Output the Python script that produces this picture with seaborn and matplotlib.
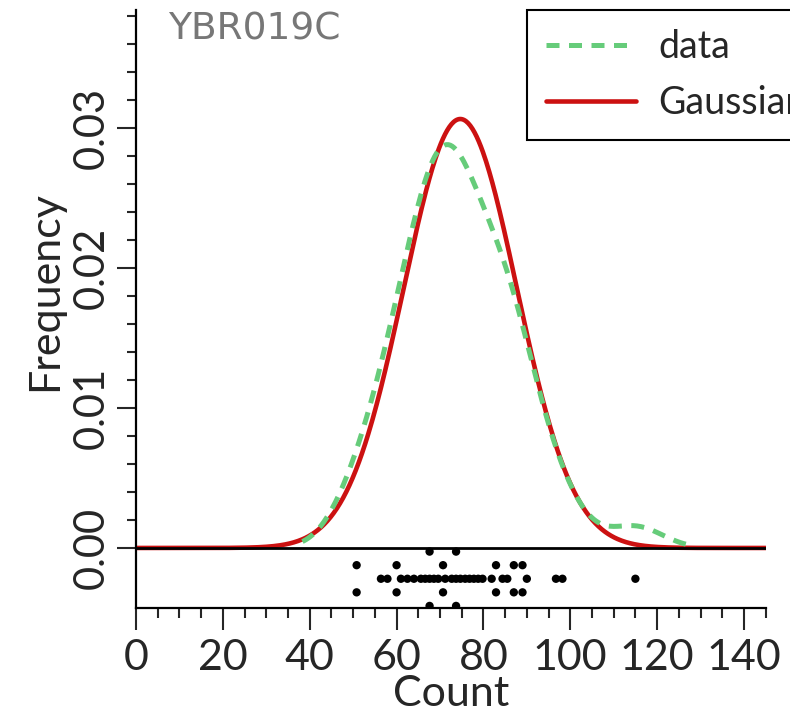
import numpy as np
import pandas as pd
import matplotlib
matplotlib.use("Agg")
import matplotlib.pyplot as plt
import seaborn as sns
from matplotlib.ticker import FixedLocator, FormatStrFormatter

# counts
counts_mid = [56.4, 57.9, 61.0, 62.5, 64.0, 65.6, 66.6, 67.6, 68.6, 69.6, 71.2, 72.7, 73.7,
              74.7, 75.8, 76.8, 77.8, 78.8, 79.8, 81.9, 84.4, 85.5, 90.0, 96.7, 98.2, 115.0]
counts_side1 = [50.8, 60.0, 70.7, 82.9, 87.0, 89.0]   # one dot above + one below the middle row
counts_side2 = [67.6, 73.7]                            # two rows out, above + below
gene = "YBR019C"
x_ticks = [0, 20, 40, 60, 80, 100, 120, 140]
y_ticks = [0.00, 0.01, 0.02, 0.03]

sns.set_style("ticks")
plt.rcParams['font.family'] = ['Lato', 'DejaVu Sans']

# build the point table, tier = row of the dot strip
rows = [(c, 0) for c in counts_mid]
rows += [(c, s) for c in counts_side1 for s in (1, -1)]
rows += [(c, 2 * s) for c in counts_side2 for s in (1, -1)]
df = pd.DataFrame(rows, columns=['Count', 'tier'])
df['strip_y'] = -0.0022 + df['tier'] * 0.00097

# gaussian with the mean / sd of the counts
mu = df['Count'].mean()
sd = df['Count'].std(ddof=0)
grid = np.linspace(0, 145, 600)
gauss = pd.DataFrame({'Count': grid,
                      'Frequency': np.exp(-0.5 * ((grid - mu) / sd) ** 2) / (sd * np.sqrt(2 * np.pi))})

fig = plt.figure(figsize=(7.9, 7.17), dpi=100)
ax = fig.add_axes([0.1722, 0.152, 0.797, 0.834])

green = '#66cc7a'
red = '#cc1111'
dash = (0, (2.6, 1.9))
sns.lineplot(data=gauss, x='Count', y='Frequency', color=red, lw=3.3, ax=ax, zorder=2)
sns.kdeplot(data=df, x='Count', bw_adjust=1.0, cut=2.0, color=green, lw=3.6,
            ls=dash, ax=ax, zorder=3)
ax.axhline(0, color='black', lw=2, zorder=4)
sns.scatterplot(data=df, x='Count', y='strip_y', color='black', s=36,
                edgecolor='none', ax=ax, zorder=5, legend=False)

ax.set_xlim(0, 145)
ax.set_ylim(-0.00429, 0.03843)

ax.xaxis.set_major_locator(FixedLocator(x_ticks))
ax.xaxis.set_minor_locator(FixedLocator(np.arange(0, 146, 5)))
ax.yaxis.set_major_locator(FixedLocator(y_ticks))
ax.yaxis.set_minor_locator(FixedLocator(np.arange(0, 0.0385, 0.002)))
ax.yaxis.set_major_formatter(FormatStrFormatter('%.2f'))

ax.tick_params(axis='x', which='major', length=16, width=1.5, labelsize=31, pad=6)
ax.tick_params(axis='x', which='minor', length=7, width=1.5)
ax.tick_params(axis='y', which='major', length=14, width=1.5, labelsize=30, pad=4)
ax.tick_params(axis='y', which='minor', length=6.5, width=1.5)
for lab in ax.get_yticklabels():
    lab.set_rotation(90)
    lab.set_va('center')

for side in ['top', 'right']:
    ax.spines[side].set_visible(False)
for side in ['left', 'bottom']:
    ax.spines[side].set_linewidth(1.6)
    ax.spines[side].set_color('black')

ax.set_xlabel('Count', fontsize=31, labelpad=-1)
ax.set_ylabel('Frequency', fontsize=31)
ax.yaxis.set_label_coords(-0.115, 0.53)

fig.text(0.2127, 0.984, gene, fontsize=27, color='#777777', va='top', ha='left',
         family=['DejaVu Sans'])

handles = [plt.Line2D([], [], color=green, lw=3.6, ls=dash),
           plt.Line2D([], [], color=red, lw=3.3)]
leg = ax.legend(handles, ['data', 'Gaussian'], loc='upper left',
                bbox_to_anchor=(0.667, 0.986), bbox_transform=fig.transFigure,
                fontsize=27, frameon=True, fancybox=False, framealpha=1,
                edgecolor='black', borderpad=0.5, handlelength=2.4,
                handletextpad=0.6, labelspacing=0.55, borderaxespad=0)
leg.get_frame().set_linewidth(1.5)

plt.savefig('out.png', dpi=100)
